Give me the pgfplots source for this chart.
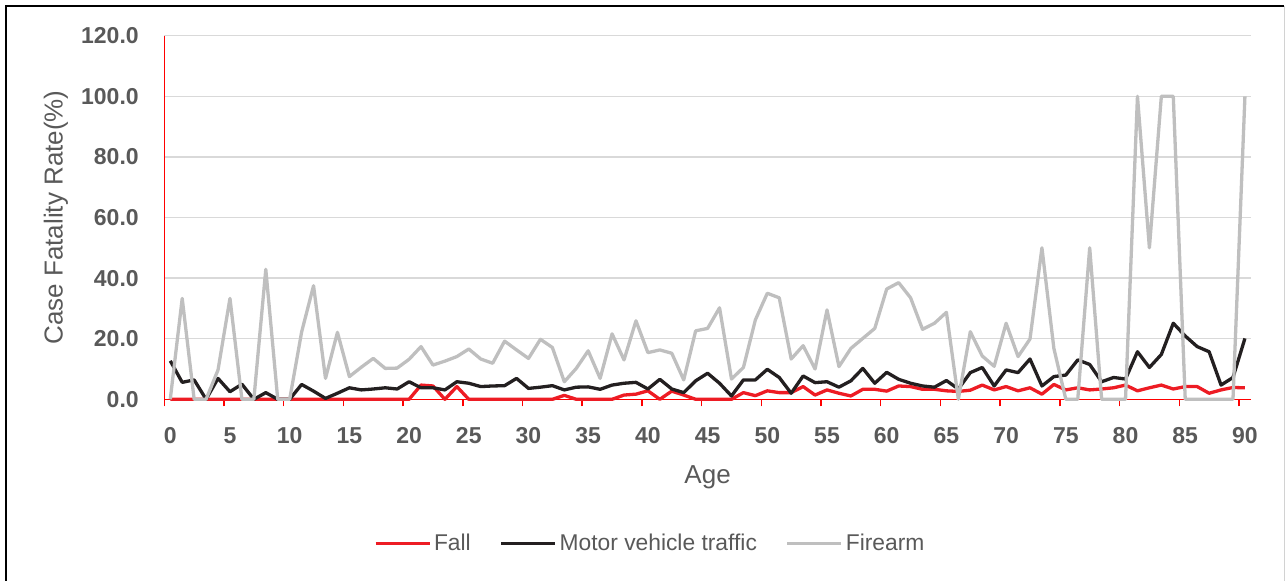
\documentclass[border=0pt]{standalone}
\usepackage{fontspec}
\setmainfont{Liberation Sans}
\usepackage{pgfplots}
\usepackage{pgfplotstable}
\pgfplotsset{compat=1.18}
\definecolor{fallred}{HTML}{ED1C24}
\definecolor{motorblack}{HTML}{231F20}
\definecolor{firegray}{HTML}{BFBFBF}
\definecolor{txtgray}{HTML}{595959}
\definecolor{gridgray}{HTML}{D9D9D9}

\pgfplotstableread{
age fall motor fire
0 0 12.7 0
1 0 5.6 33.3
2 0 6.4 0
3 0 0 0
4 0 6.9 9.7
5 0 2.5 33.3
6 0 5.0 0
7 0 0 0
8 0 2.2 42.9
9 0 0 0
10 0 0 0
11 0 4.9 22.2
12 0 2.7 37.5
13 0 0.3 6.9
14 0 2.0 22.1
15 0 3.8 7.5
16 0 3.1 10.6
17 0 3.4 13.5
18 0 3.8 10.2
19 0 3.4 10.3
20 0 5.8 13.2
21 4.7 3.8 17.4
22 4.4 3.8 11.3
23 0 3.1 12.6
24 4.2 5.8 14.1
25 0 5.3 16.6
26 0 4.2 13.3
27 0 4.4 11.9
28 0 4.5 19.2
29 0 6.9 16.3
30 0 3.6 13.5
31 0 4.0 19.8
32 0 4.5 17.1
33 1.3 3.1 5.8
34 0 4.0 10.2
35 0 4.1 16.0
36 0 3.3 6.9
37 0 4.7 21.6
38 1.4 5.3 13.0
39 1.7 5.6 25.9
40 2.8 3.4 15.4
41 0 6.6 16.3
42 2.7 3.4 15.2
43 1.4 2.2 6.4
44 0 6.1 22.6
45 0 8.6 23.4
46 0 5.3 30.2
47 0 1.1 6.7
48 2.2 6.4 10.5
49 1.2 6.4 26.2
50 2.8 9.9 35.0
51 2.2 7.2 33.5
52 2.2 2.0 13.3
53 4.2 7.7 17.7
54 1.4 5.5 10.0
55 3.1 5.8 29.5
56 2.0 4.0 10.8
57 1.1 6.1 16.8
58 3.3 10.2 20.1
59 3.3 5.3 23.4
60 2.7 8.9 36.4
61 4.4 6.6 38.5
62 4.2 5.3 33.5
63 3.3 4.4 23.1
64 3.3 4.0 25.1
65 2.8 6.2 28.7
66 2.6 3.4 0
67 3.0 8.8 22.3
68 4.7 10.5 14.3
69 3.1 4.4 10.9
70 4.2 9.7 25.1
71 2.8 8.8 14.1
72 3.8 13.3 19.9
73 1.7 4.4 50
74 4.9 7.5 16.8
75 3.1 8.0 0
76 3.8 13.0 0
77 3.1 11.5 50
78 3.4 5.8 0
79 3.8 7.2 0
80 4.7 6.7 0
81 2.8 15.7 100
82 3.8 10.5 50
83 4.7 14.8 100
84 3.4 25.1 100
85 4.2 20.9 0
86 4.2 17.4 0
87 2.0 15.7 0
88 3.1 4.7 0
89 3.9 7.2 0
90 3.8 20.1 100
}\datatable

\begin{document}
\begin{tikzpicture}
\useasboundingbox (-82.15pt,-90.35pt) rectangle (560.85pt,199.65pt);
\begin{axis}[
  scale only axis,
  width=543.3pt, height=181.8pt,
  at={(0pt,0pt)}, anchor=south west,
  xmin=-0.5, xmax=90.5, ymin=0, ymax=120,
  clip=false,
  axis x line*=bottom, axis y line*=left,
  axis line style={draw=red, line width=0.75pt, -},
  xtick={0,5,...,90},
  minor xtick={-0.5,4.5,...,89.5},
  ytick={0,20,...,120},
  tick align=outside,
  major tick length=0pt,
  minor tick length=3.5pt,
  minor tick style={draw=red, line width=0.75pt},
  ymajorgrids,
  grid style={draw=gridgray, line width=0.75pt},
  /pgf/number format/assume math mode=true,
  tick label style={font=\fontsize{11.5}{13}\selectfont\bfseries, text=txtgray},
  yticklabel style={anchor=east, inner sep=0pt, xshift=-12.6pt,
    /pgf/number format/fixed, /pgf/number format/fixed zerofill,
    /pgf/number format/precision=1},
  xticklabel style={anchor=north, inner sep=0pt, yshift=-13.85pt},
  ylabel={Case Fatality Rate(\%)},
  ylabel style={at={(axis description cs:-0.0997,0.5)}, anchor=center,
    font=\fontsize{13}{15}\selectfont, text=txtgray},
  xlabel={Age},
  xlabel style={at={(axis description cs:0.5,-0.2137)}, anchor=center,
    font=\fontsize{13}{15}\selectfont, text=txtgray},
  legend style={at={(axis description cs:0.4475,-0.396)}, anchor=center,
    draw=none, fill=none, legend columns=3,
    font=\fontsize{11.4}{13}\selectfont, text=txtgray,
    /tikz/every even column/.append style={column sep=13pt},
    nodes={inner sep=1.4pt}},
  legend image code/.code={\draw[#1, line width=1.65pt] (0pt,0pt) -- (27pt,0pt);},
  every axis plot/.append style={line width=1.65pt, line join=round, mark=none},
]
\addplot[fallred] table[x=age, y=fall] {\datatable};
\addlegendentry{Fall}
\addplot[motorblack] table[x=age, y=motor] {\datatable};
\addlegendentry{Motor vehicle traffic}
\addplot[firegray] table[x=age, y=fire] {\datatable};
\addlegendentry{Firearm}
\end{axis}
\draw[black, line width=1pt] (-79.15pt,-91pt) -- (-79.15pt,196.65pt) -- (560pt,196.65pt);
\draw[gray!35, line width=0.5pt] (559.85pt,196.65pt) -- (559.85pt,-91pt);
\end{tikzpicture}
\end{document}
